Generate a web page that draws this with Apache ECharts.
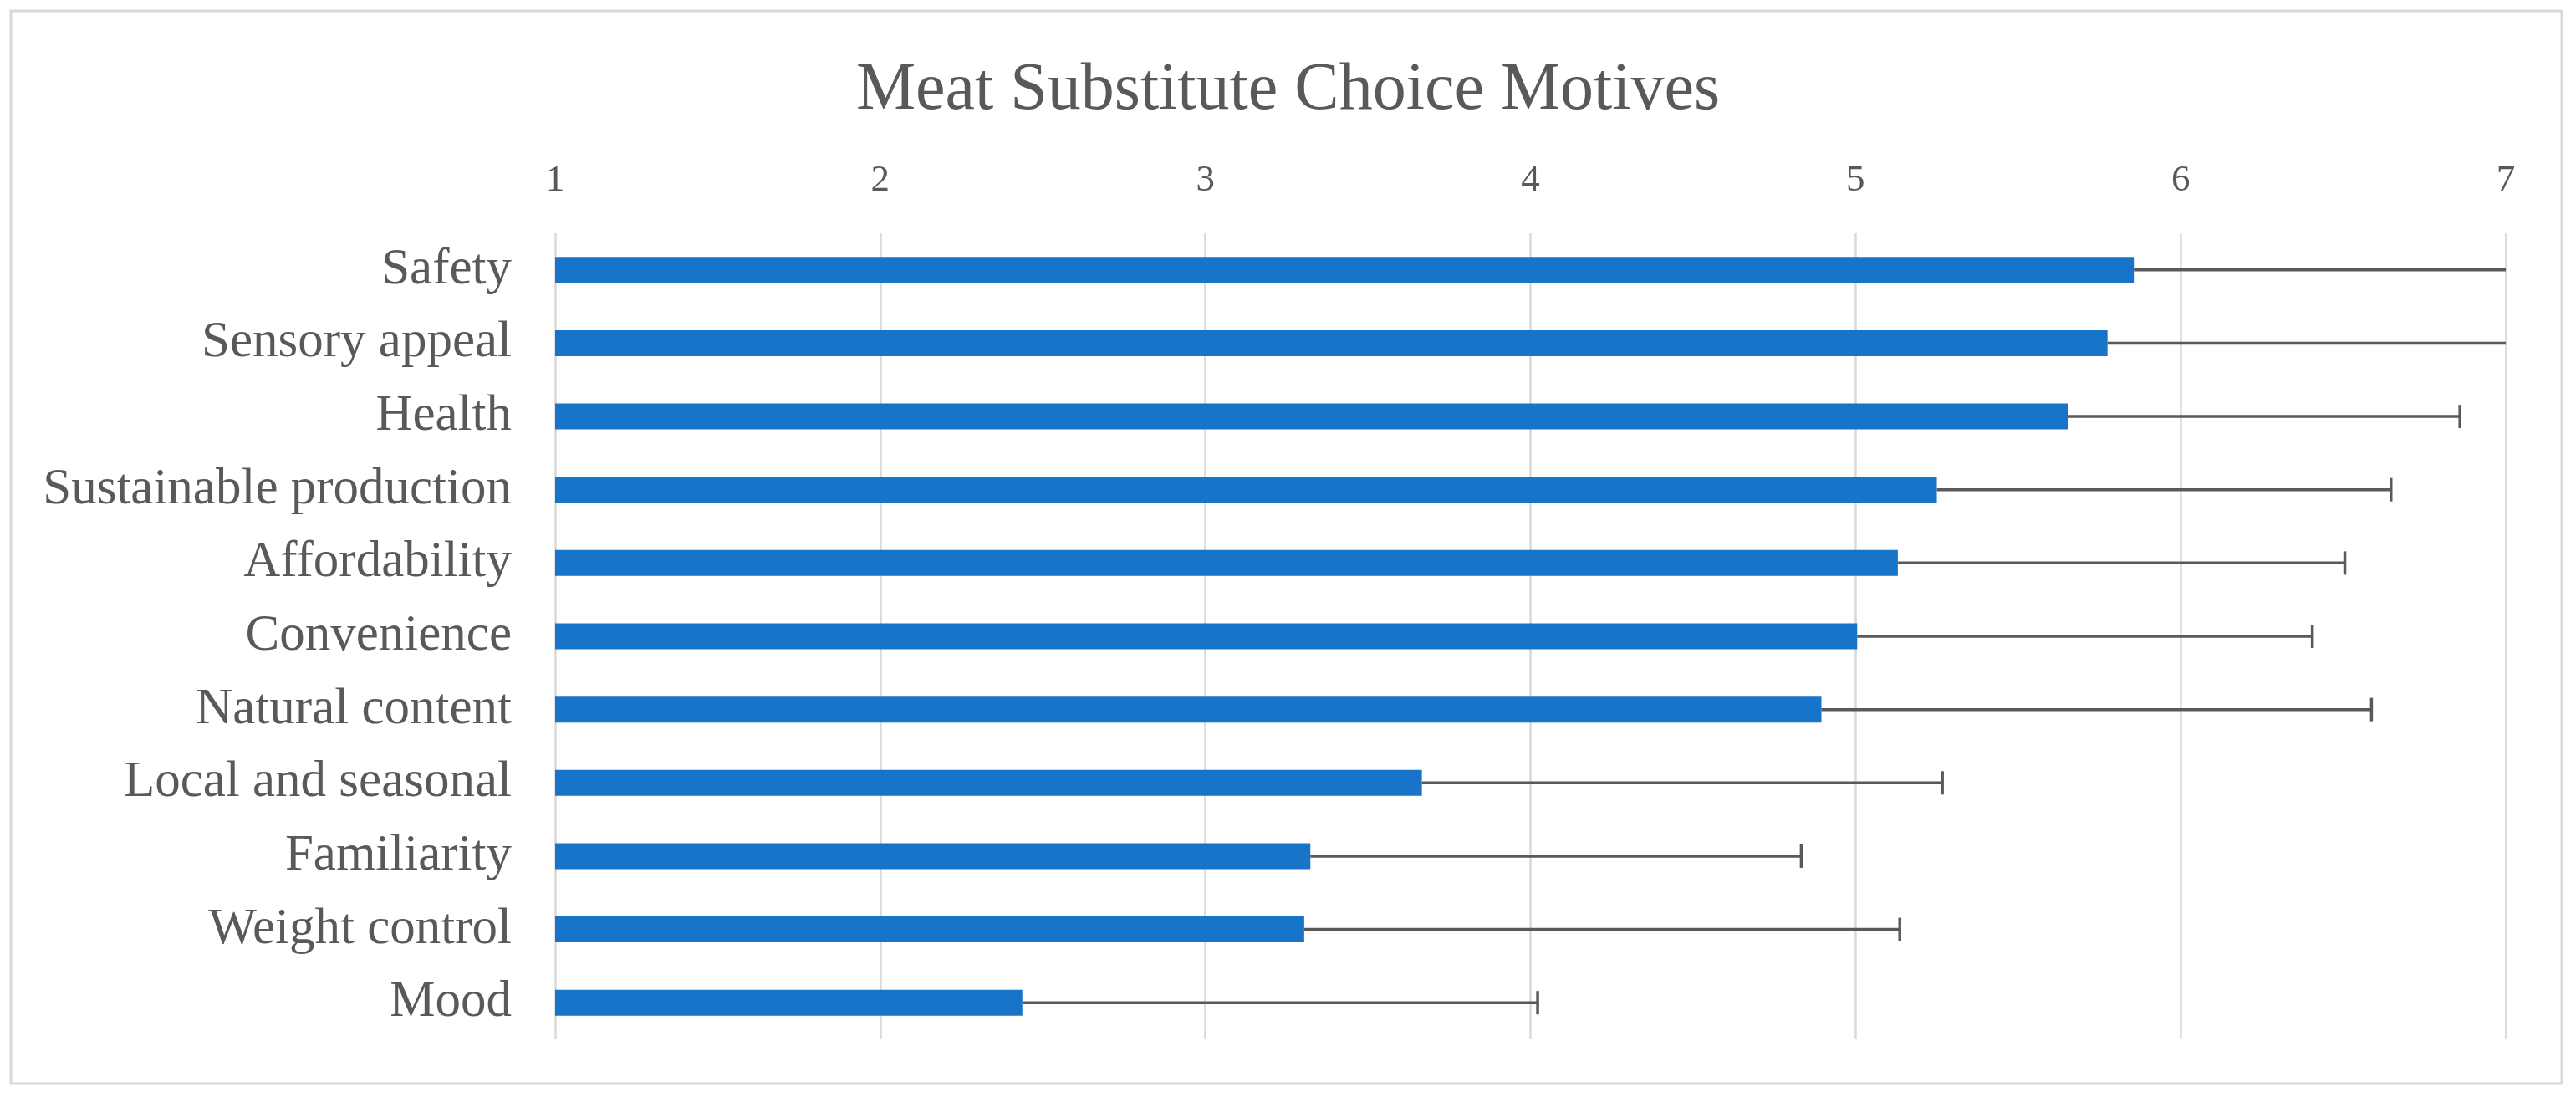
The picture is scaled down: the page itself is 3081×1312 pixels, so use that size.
<!DOCTYPE html>
<html>
<head>
<meta charset="utf-8">
<script src="https://cdn.jsdelivr.net/npm/echarts@6/dist/echarts.min.js"></script>
<style>
  html, body { margin: 0; padding: 0; background: #ffffff; }
  #chart { width: 3081px; height: 1312px; }
</style>
</head>
<body>
<div id="chart"></div>
<script>
// ---- data ----
const titleText = 'Meat Substitute Choice Motives';
const categories = ['Safety', 'Sensory appeal', 'Health', 'Sustainable production', 'Affordability',
  'Convenience', 'Natural content', 'Local and seasonal', 'Familiarity', 'Weight control', 'Mood'];
const means = [5.856, 5.775, 5.653, 5.250, 5.130, 5.005, 4.895, 3.666, 3.323, 3.304, 2.437];
const errPlus = [1.25, 1.30, 1.206, 1.397, 1.375, 1.400, 1.692, 1.601, 1.510, 1.832, 1.585];
const axisMin = 1;
const axisMax = 7;
const axisStep = 1;

const textColor = '#595959';
const fontFam = '"Liberation Serif", "Times New Roman", serif';

const errData = means.map((m, i) => [m, i, errPlus[i]]);

const chart = echarts.init(document.getElementById('chart'), null, { renderer: 'canvas' });
chart.setOption({
  backgroundColor: '#ffffff',
  animation: false,
  title: {
    text: titleText,
    left: 'center',
    top: 64,
    textStyle: { fontFamily: fontFam, fontSize: 80, fontWeight: 'normal', color: textColor, lineHeight: 80 }
  },
  graphic: [{
    type: 'rect',
    shape: { x: 13, y: 13, width: 3051, height: 1283 },
    style: { fill: 'none', stroke: '#d9d9d9', lineWidth: 3 },
    silent: true
  }],
  grid: { left: 664, right: 84, top: 279, bottom: 69, containLabel: false },
  xAxis: {
    type: 'value',
    position: 'top',
    min: axisMin,
    max: axisMax,
    interval: axisStep,
    axisLine: { show: false },
    axisTick: { show: false },
    axisLabel: { fontFamily: fontFam, fontSize: 45, color: textColor, margin: 40 },
    splitLine: { show: true, lineStyle: { color: '#d9d9d9', width: 2.5 } }
  },
  yAxis: {
    type: 'category',
    data: categories,
    inverse: true,
    axisLine: { show: false },
    axisTick: { show: false },
    axisLabel: { fontFamily: fontFam, fontSize: 61, color: textColor, margin: 52 },
    splitLine: { show: false }
  },
  series: [
    {
      type: 'bar',
      data: means,
      barWidth: 31,
      itemStyle: { color: '#1874c8' },
      z: 2
    },
    {
      type: 'custom',
      data: errData,
      encode: { x: 0, y: 1 },
      z: 3,
      clip: false,
      renderItem: function (params, api) {
        const m = api.value(0);
        const idx = api.value(1);
        const e = api.value(2);
        const hi = m + e;
        const endVal = Math.min(hi, axisMax);
        const p0 = api.coord([m, idx]);
        const p1 = api.coord([endVal, idx]);
        const style = { stroke: '#595959', lineWidth: 3.5 };
        const children = [{
          type: 'line',
          shape: { x1: p0[0], y1: p0[1], x2: p1[0], y2: p1[1] },
          style: style
        }];
        if (hi <= axisMax) {
          children.push({
            type: 'line',
            shape: { x1: p1[0], y1: p1[1] - 14, x2: p1[0], y2: p1[1] + 14 },
            style: style
          });
        }
        return { type: 'group', children: children };
      }
    }
  ]
});
</script>
</body>
</html>
